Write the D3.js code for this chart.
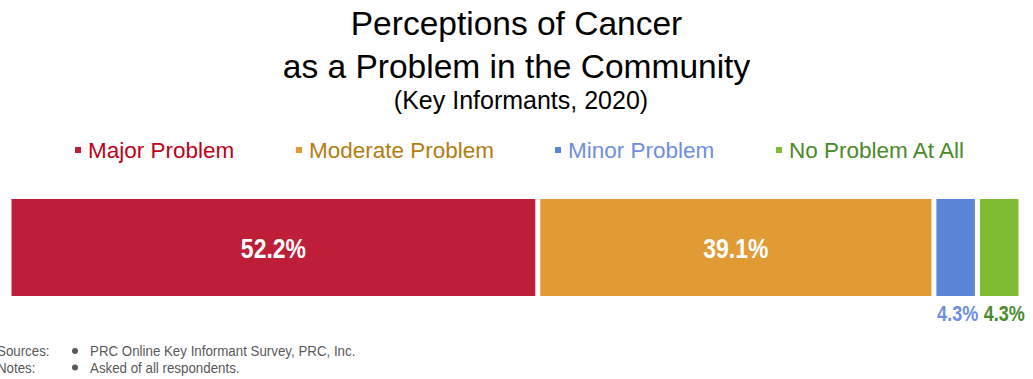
<!DOCTYPE html>
<html><head><meta charset="utf-8">
<script src="https://cdn.jsdelivr.net/npm/d3@7"></script>
<style>body{margin:0;background:#fff;}svg{display:block;}</style>
</head><body><svg id="c" width="1033" height="379"></svg>
<script>
const categories = ["Major Problem","Moderate Problem","Minor Problem","No Problem At All"];
const values = [52.2, 39.1, 4.3, 4.3];
const labels = ["52.2%","39.1%","4.3%","4.3%"];
const barColors = ["#BE1E37","#E09B35","#5B86D8","#80BC31"];
const textColors = ["#C00018","#B57C12","#6F8EDF","#4A8A2A"];
const titleLines = ["Perceptions of Cancer","as a Problem in the Community"];
const subtitle = "(Key Informants, 2020)";
const footLabels = ["Sources:","Notes:"];
const footTexts = ["PRC Online Key Informant Survey, PRC, Inc.","Asked of all respondents."];

const svg = d3.select("#c");
const W = 1033;
const font = "'Liberation Sans', Arial, sans-serif";
const NS = 0.82; // narrow-font horizontal squeeze

svg.selectAll("text.title").data(titleLines).join("text")
  .attr("x", W/2).attr("y",(d,i)=>35+i*43).attr("text-anchor","middle")
  .attr("font-family",font).attr("font-size",33.5).attr("fill","#000").text(d=>d);
svg.append("text").attr("x",521).attr("y",109).attr("text-anchor","middle")
  .attr("font-family",font).attr("font-size",25).attr("fill","#000").text(subtitle);

// legend
const legX = [75, 296, 555, 776];
const lg = svg.selectAll("g.leg").data(categories).join("g").attr("transform",(d,i)=>`translate(${legX[i]},150)`);
lg.append("rect").attr("x",0).attr("y",-3).attr("width",6).attr("height",6).attr("fill",(d,i)=>barColors[i]);
lg.append("text").attr("x",13).attr("y",8).attr("font-family",font).attr("font-size",22.5)
  .attr("fill",(d,i)=>textColors[i]).text(d=>d);

// bars
const total = d3.sum(values);
const x = d3.scaleLinear().domain([0,total]).range([9,1021]);
const y = d3.scaleBand().domain(["all"]).range([199,296]).padding(0);
let cum = 0;
const segs = values.map((v,i)=>{const s={i,v,start:cum,end:cum+v};cum+=v;return s;});
const gap = 2.5;
svg.selectAll("rect.bar").data(segs).join("rect")
  .attr("x",d=>x(d.start)+gap).attr("width",d=>x(d.end)-x(d.start)-2*gap)
  .attr("y",y("all")).attr("height",y.bandwidth()).attr("fill",d=>barColors[d.i]);
svg.selectAll("text.val").data(segs).join("text")
  .attr("transform",d=>{
    const cx=(x(d.start)+x(d.end))/2 + (d.v>10?0:(d.i===3?5:2));
    const cy=d.v>10 ? y("all")+y.bandwidth()/2+10 : 321;
    return `translate(${cx},${cy}) scale(${NS},1)`;})
  .attr("text-anchor","middle").attr("font-family",font).attr("font-weight","bold")
  .attr("font-size",d=>d.v>10?28:22)
  .attr("fill",d=>d.v>10?"#fff":textColors[d.i]).text(d=>labels[d.i]);

// footer
footLabels.forEach((l,i)=>{
  const yy = 356+i*16.5;
  svg.append("text").attr("transform",`translate(-3,${yy}) scale(0.86,1)`).attr("font-family",font).attr("font-size",15.5).attr("fill","#595959").text(l);
  svg.append("circle").attr("cx",75).attr("cy",yy-5).attr("r",3).attr("fill","#595959");
  svg.append("text").attr("transform",`translate(90,${yy}) scale(0.86,1)`).attr("font-family",font).attr("font-size",15.5).attr("fill","#595959").text(footTexts[i]);
});
</script></body></html>
